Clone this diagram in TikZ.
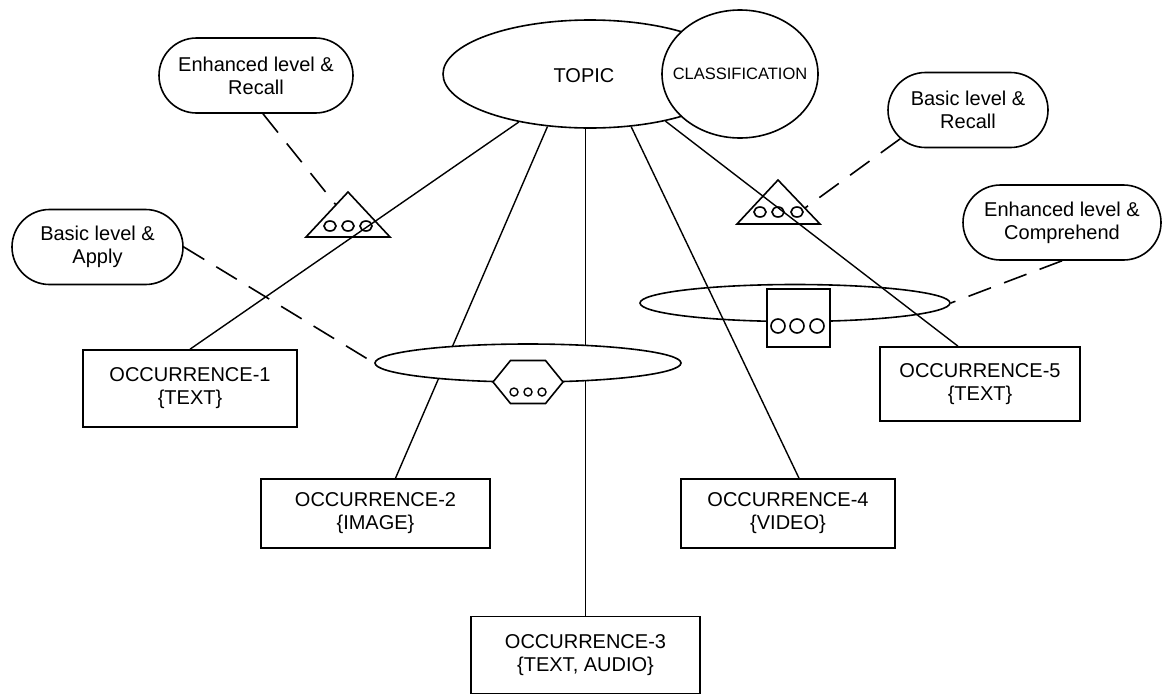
\documentclass[tikz,border=0pt]{standalone}
\usepackage{fontspec}
\setmainfont{Liberation Sans}
\usetikzlibrary{shapes.geometric,shapes.misc,calc}
\begin{document}
\begin{tikzpicture}[x=1pt,y=-1pt,line width=1.6pt,
  every node/.style={font=\fontsize{20}{23}\selectfont,align=center,inner sep=0pt},
  occbox/.style={draw,rectangle,minimum width=#1,minimum height=77pt},
  callout/.style={draw,rounded rectangle,minimum width=#1,minimum height=75pt},
  link/.style={line width=1.4pt},
  hint/.style={line width=1.6pt,dash pattern=on 24pt off 14pt}]
\useasboundingbox (0,0) rectangle (1169,694);

% topic ellipse
\node[draw,ellipse,minimum width=294pt,minimum height=108pt] (topic) at (590,74) {};
\node at (584,76) {TOPIC};

% occurrence boxes
\node[occbox=214pt] (occ1) at (190,388.5) {OCCURRENCE-1\\\{TEXT\}};
\node[occbox=229pt,minimum height=69pt] (occ2) at (375.5,513.5) {OCCURRENCE-2\\\{IMAGE\}};
\node[occbox=229pt] (occ3) at (585.5,655) {OCCURRENCE-3\\\{TEXT, AUDIO\}};
\node[occbox=214pt,minimum height=69pt] (occ4) at (788,513.5) {OCCURRENCE-4\\\{VIDEO\}};
\node[occbox=200pt,minimum height=74pt] (occ5) at (980,384) {OCCURRENCE-5\\\{TEXT\}};

% callouts
\node[callout=194pt] (er) at (256,75.5) {Enhanced level \&\\Recall};
\node[callout=171pt] (ba) at (97.5,247) {Basic level \&\\Apply};
\node[callout=160pt] (br) at (968,110) {Basic level \&\\Recall};
\node[callout=198pt] (ec) at (1062,222.5) {Enhanced level \&\\Comprehend};

% association lines from the topic
\draw[link] (topic.-146.9) -- (occ1.north);
\draw[link] (topic.-129.5) -- ([xshift=20pt]occ2.north);
\draw[link] (occ3.north) -- (occ3.north |- topic.south);
\draw[link] (topic.-52.8) -- ([xshift=11pt]occ4.north);
\draw[link] (topic.-32.8) -- ([xshift=-22pt]occ5.north);

% classification circle
\node[draw,fill=white,ellipse,minimum width=156pt,minimum height=128pt] (cls) at (740,74) {};
\node[font=\fontsize{16.5}{19}\selectfont] at (cls) {CLASSIFICATION};

% scope triangles
\draw (306,237) -- (348,192) -- (390,237) -- cycle;
\foreach \x in {330,348,366} \draw (\x,226) ellipse[x radius=6pt,y radius=5pt];
\coordinate (tl) at (336,205);
\draw (737,224) -- (778,180) -- (820,224) -- cycle;
\foreach \x in {760,778,797} \draw (\x,212) ellipse[x radius=6pt,y radius=5pt];
\coordinate (tr) at (805,208);

% variant ellipse with hexagon
\node[draw,fill=white,ellipse,minimum width=306pt,minimum height=38pt] (ovl) at (528,363) {};
\draw[fill=white] (493,382) -- (510.5,360.5) -- (545.5,360.5) -- (563,382) -- (545.5,403.5) -- (510.5,403.5) -- cycle;
\foreach \x in {514,528,542} \draw[line width=1.4pt] (\x,392) circle[radius=4pt];

% variant ellipse with square
\node[draw,ellipse,minimum width=310pt,minimum height=37pt] (ovr) at (795,303) {};
\node[draw,fill=white,minimum width=63pt,minimum height=58pt] (sq) at (798.5,318) {};
\foreach \x in {778,797,817} \draw (\x,326) circle[radius=7pt];

% dashed scope links
\draw[hint] ([xshift=7pt]er.south) -- (tl);
\draw[hint] (ba.east) -- (ovl.west);
\draw[hint] (br.203) -- (tr);
\draw[hint] (ec.south) -- (ovr.east);
\end{tikzpicture}
\end{document}
